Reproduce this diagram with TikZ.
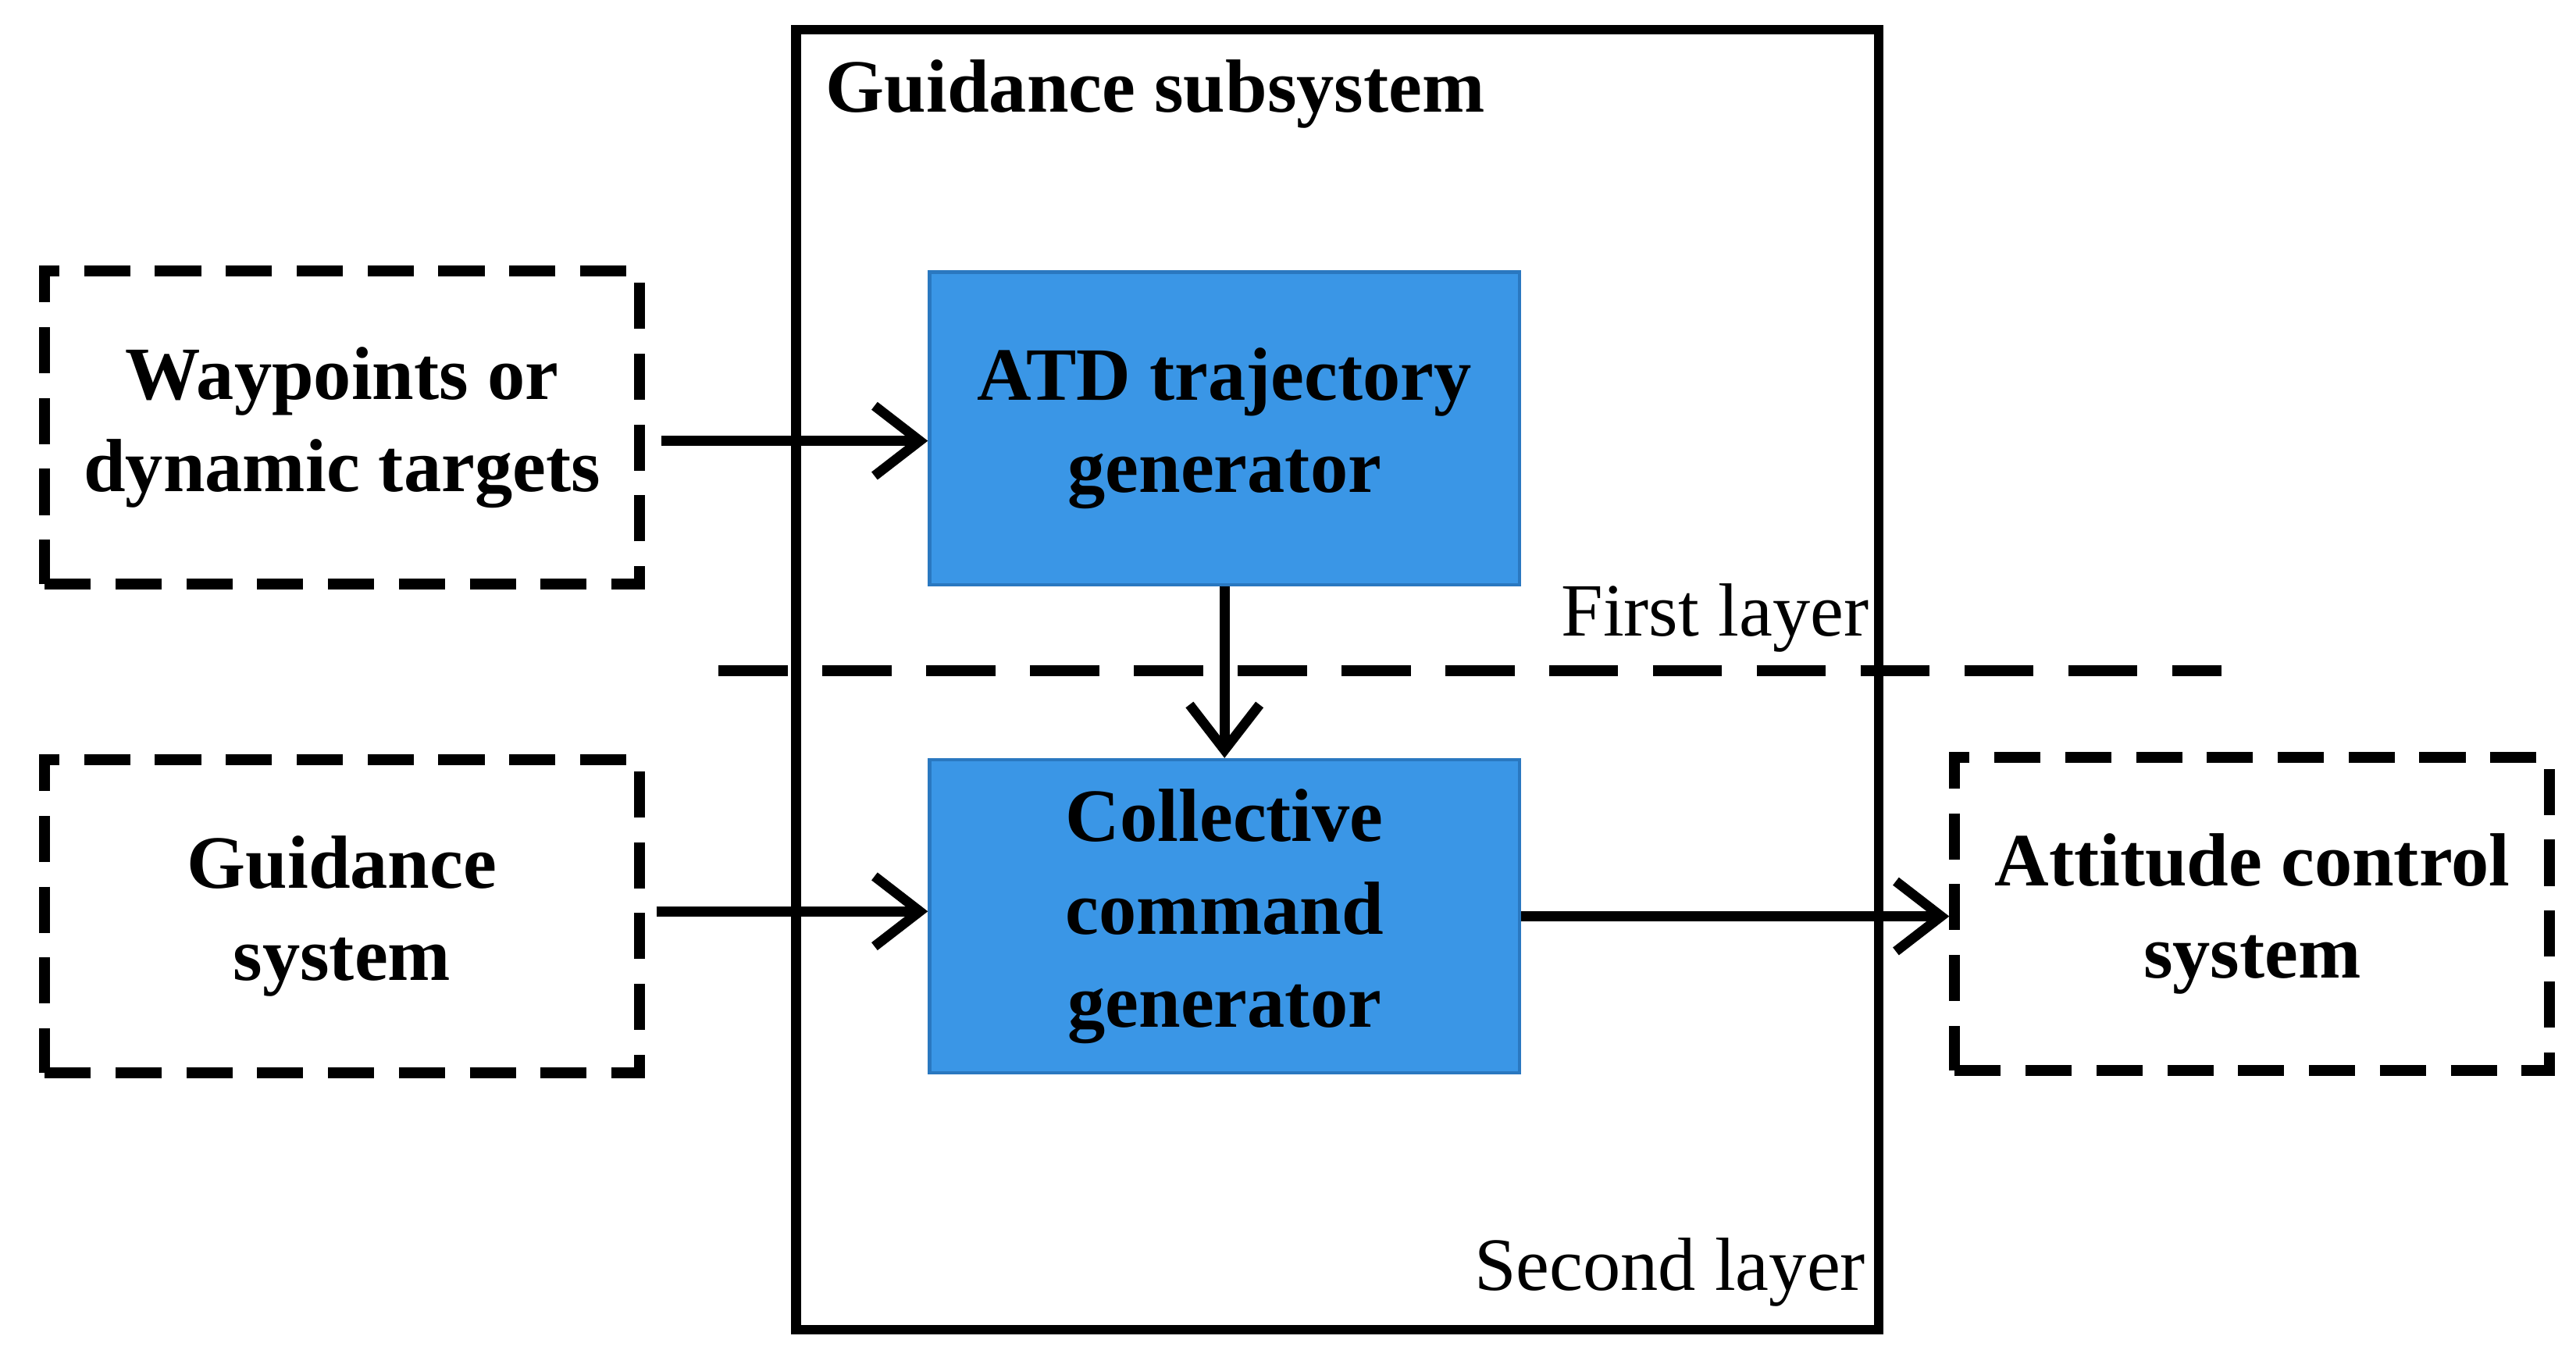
\documentclass[tikz,border=0pt]{standalone}
\usepackage{fontspec}
\setmainfont{Liberation Serif}
\usetikzlibrary{arrows.meta}
\definecolor{blockblue}{HTML}{3A96E6}
\definecolor{blockedge}{HTML}{2A78C0}
\tikzset{
  block/.style={draw=blockedge, line width=1.2pt, fill=blockblue, minimum width=7.16cm, minimum height=3.8cm, align=center, font=\fontsize{26}{32}\selectfont\bfseries},
  extern/.style={draw, line width=3.8pt, dash pattern=on 0.56cm off 0.3cm, minimum width=7.22cm, minimum height=3.8cm, align=center, font=\fontsize{26}{32}\selectfont\bfseries},
  link/.style={line width=3.4pt, -{Straight Barb[length=0.55cm,width=0.85cm,line width=3.4pt]}},
}
\begin{document}
\begin{tikzpicture}[x=0.02cm,y=-0.02cm]
            \useasboundingbox (0,0) rectangle (1563,819);
            % Subsystem frame
            \node[draw, line width=3.4pt, minimum width=13.14cm, minimum height=15.78cm, inner sep=0pt] (frame) at (811.5,412.5) {};
            \node[anchor=west, font=\fontsize{26}{28}\selectfont\bfseries] (title) at (495,57) {Guidance subsystem};

            % First layer
            \node[block] (atd) at (743,260) {ATD trajectory\\generator};
            \node[extern] (wp) at (207.5,259.5) {Waypoints or\\dynamic targets};
            \draw[link] (wp.east) ++(10,8) coordinate (wpout) (wpout) -- (atd.west |- wpout);
            \node[anchor=east, font=\fontsize{26}{28}\selectfont] (first) at (1140,375) {First layer};

            % Layer separator
            \coordinate (sepl) at (436,407);
            \coordinate (sepr) at (1348,407);
            \draw[line width=3.8pt, dash pattern=on 0.84cm off 0.42cm] (sepl) -- (sepr);

            % Second layer
            \node[block] (coll) at (743,556) {Collective\\command\\generator};
            \draw[link] (atd) -- (coll);
            \node[extern] (gs) at (207.5,556) {Guidance\\system};
            \draw[link] (gs.east) ++(7,-3) coordinate (gsout) (gsout) -- (coll.west |- gsout);
            \node[extern] (att) at (1366.5,554.5) {Attitude control\\system};
            \draw[link] (coll.east) -- (att.west |- coll.east);
            \node[anchor=east, font=\fontsize{26}{28}\selectfont] (second) at (1138,772) {Second layer};
        \end{tikzpicture}
\end{document}
